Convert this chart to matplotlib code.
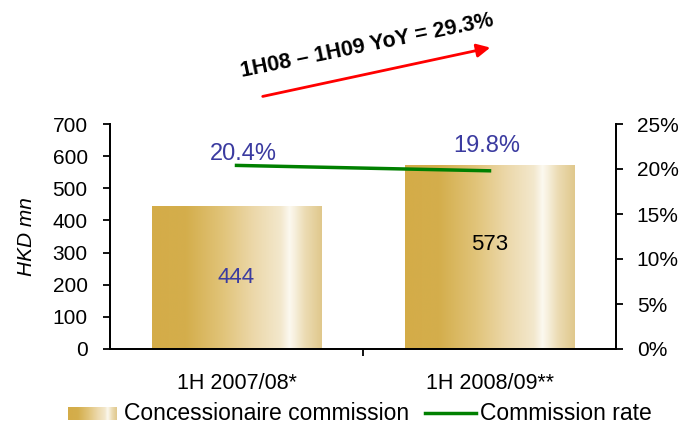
import numpy as np
import matplotlib
matplotlib.use('Agg')
import matplotlib.pyplot as plt
from matplotlib.lines import Line2D

plt.rcParams['font.family'] = ['Liberation Sans', 'DejaVu Sans']

categories = ['1H 2007/08*', '1H 2008/09**']
commission = [444, 573]          # HKD mn
commission_rate = [20.4, 19.8]   # %
left_ticks = [0, 100, 200, 300, 400, 500, 600, 700]
right_ticks = [0, 5, 10, 15, 20, 25]
yoy_text = '1H08 \u2013 1H09 YoY = 29.3%'

gold_stops = [0.0, 0.2, 0.42, 0.6, 0.76, 0.81, 0.84, 0.9, 1.0]
gold_colors = np.array([
    (212, 172, 72), (212, 174, 76), (225, 196, 122), (236, 216, 170),
    (243, 232, 205), (252, 249, 240), (247, 240, 222), (236, 220, 180),
    (224, 200, 140)]) / 255.0

blue = '#3B3BA0'


def gold_gradient(n=256):
    t = np.linspace(0, 1, n)
    rgb = np.stack([np.interp(t, gold_stops, gold_colors[:, k]) for k in range(3)], axis=-1)
    return rgb[np.newaxis, :, :]


fig = plt.figure(figsize=(6.84, 4.26), dpi=100)
ax = fig.add_axes([110 / 684, 1 - 349 / 426, 506 / 684, 225 / 426])
x = np.arange(len(categories))

# bars: invisible patches filled with a horizontal gold gradient
bars = ax.bar(x, commission, width=0.67, color='none', edgecolor='none', zorder=2)
grad = gold_gradient()
for b in bars:
    x0, y0 = b.get_x(), b.get_y()
    img = ax.imshow(grad, extent=[x0, x0 + b.get_width(), y0, y0 + b.get_height()],
                    aspect='auto', interpolation='bicubic', zorder=2)
    img.set_clip_path(b)

ax.set_xlim(-0.5, 1.5)
ax.set_ylim(0, 700)
ax.set_yticks(left_ticks)
ax.set_xticks(x)
ax.set_xticklabels(categories, fontsize=15.5)
ax.set_xticks([0.5], minor=True)
ax.tick_params(axis='x', which='major', length=0, pad=17)
ax.tick_params(axis='x', which='minor', length=5, width=1.3, direction='out')
ax.tick_params(axis='y', length=5, width=1.3, direction='out', labelsize=15, pad=11)
ax.spines['top'].set_visible(False)
for s in ['left', 'right', 'bottom']:
    ax.spines[s].set_linewidth(1.3)
ax.set_ylabel('HKD mn', fontsize=15, style='italic', labelpad=12)

value_colors = [blue, 'black']
value_shift = [0, 9]
for xi, v, c, dy in zip(x, commission, value_colors, value_shift):
    ax.annotate(str(v), (xi, v / 2), xytext=(0, dy), textcoords='offset points',
                ha='center', va='center', fontsize=16, color=c, zorder=4)

# commission rate on the secondary axis
ax2 = ax.twinx()
ax2.plot(x, commission_rate, color='#008000', lw=2.5, zorder=3)
ax2.set_ylim(0, 25)
ax2.set_yticks(right_ticks)
ax2.set_yticklabels([f'{t}%' for t in right_ticks])
ax2.tick_params(axis='y', length=5, width=1.3, direction='out', labelsize=15, pad=10)
ax2.spines['top'].set_visible(False)
for s in ['left', 'right', 'bottom']:
    ax2.spines[s].set_linewidth(1.3)

rate_offsets = [(5, 0), (-2, 10)]
for xi, r, off in zip(x, commission_rate, rate_offsets):
    ax2.annotate(f'{r}%', (xi, r), xytext=off, textcoords='offset points',
                 ha='center', va='bottom', fontsize=17, color=blue)

# growth arrow with caption
fig.add_artist(matplotlib.patches.FancyArrowPatch(
    (260 / 684, 1 - 97 / 426), (493 / 684, 1 - 47 / 426),
    transform=fig.transFigure, arrowstyle='-|>,head_length=8,head_width=4',
    color='#FF0000', lw=2))
fig.text(367 / 684, 1 - 46 / 426, yoy_text, rotation=11.5, rotation_mode='anchor',
         ha='center', va='center', fontsize=15.5, fontweight='bold')

# legend
lax = fig.add_axes([68 / 684, 1 - 420 / 426, 49 / 684, 13 / 426])
lax.imshow(gold_gradient(), aspect='auto', interpolation='bicubic')
lax.axis('off')
fig.text(124 / 684, 1 - 413 / 426, 'Concessionaire commission', fontsize=16.5, va='center')
fig.add_artist(Line2D([425 / 684, 476 / 684], [1 - 413 / 426] * 2,
                      transform=fig.transFigure, color='#008000', lw=2.5))
fig.text(480 / 684, 1 - 413 / 426, 'Commission rate', fontsize=16.5, va='center')

fig.savefig('out.png', dpi=100)
